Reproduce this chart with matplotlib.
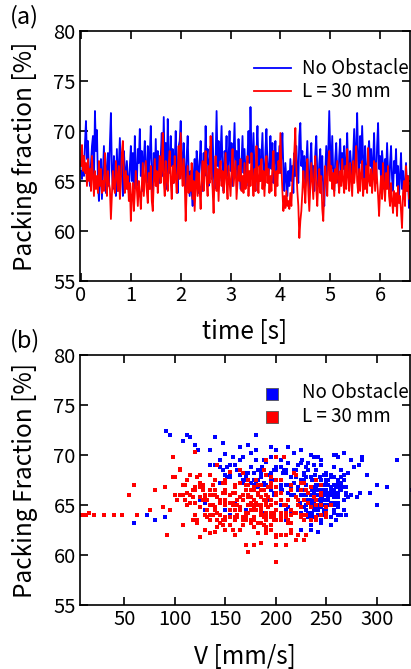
import numpy as np
import matplotlib
matplotlib.use("Agg")
import matplotlib.pyplot as plt

plt.rcParams['font.family'] = ['Noto Sans CJK JP', 'DejaVu Sans']

# packing fraction time series [%], sampled every 0.02 s from t = 0 to 6.6 s
time_step = 0.02
no_obstacle = [
    66.0, 65.2, 67.5, 65.5, 68.8, 71.0, 67.2, 69.0, 65.8, 64.5,
    66.8, 68.5, 69.5, 65.0, 72.0, 68.0, 70.1, 64.8, 63.0, 65.5,
    67.2, 63.2, 66.0, 68.5, 65.0, 63.8, 66.5, 67.8, 64.5, 68.8,
    71.8, 66.0, 64.2, 67.5, 65.0, 63.5, 68.2, 64.0, 66.8, 69.3,
    65.5, 67.0, 63.5, 68.0, 66.2, 64.8, 67.0, 65.2, 63.8, 66.5,
    68.5, 65.0, 67.8, 64.2, 69.5, 66.0, 64.5, 68.2, 66.8, 70.2,
    65.5, 68.0, 64.0, 67.2, 69.0, 66.2, 64.8, 68.5, 65.8, 67.5,
    70.5, 66.0, 63.0, 67.8, 65.2, 69.2, 64.5, 68.0, 66.5, 64.8,
    67.5, 69.8, 65.5, 71.4, 66.0, 68.8, 64.2, 71.2, 67.0, 65.8,
    69.5, 66.5, 68.2, 64.8, 67.0, 70.0, 66.2, 63.8, 68.5, 69.0,
    71.0, 67.5, 65.2, 68.8, 66.0, 64.2, 67.5, 69.5, 65.8, 63.5,
    66.0, 64.0, 62.5, 65.5, 67.2, 64.8, 68.0, 66.5, 63.8, 67.0,
    69.0, 66.2, 64.0, 67.8, 65.5, 70.5, 66.8, 68.2, 64.5, 67.0,
    68.5, 65.2, 69.8, 66.0, 64.2, 67.0, 72.0, 66.5, 69.0, 65.0,
    67.8, 70.5, 66.2, 64.0, 68.0, 66.8, 69.5, 65.5, 67.2, 70.0,
    66.0, 68.8, 64.5, 67.5, 70.8, 66.2, 68.0, 65.0, 69.2, 66.5,
    64.2, 67.0, 69.5, 65.8, 68.2, 66.0, 64.5, 67.5, 70.0, 66.8,
    72.4, 68.0, 65.5, 69.8, 66.2, 64.0, 67.8, 70.5, 66.5, 68.2,
    65.0, 67.5, 69.8, 66.0, 64.5, 68.0, 70.2, 66.8, 65.2, 67.0,
    69.5, 66.2, 68.8, 64.8, 67.2, 69.0, 65.5, 67.8, 66.0, 68.5,
    65.8, 67.5, 69.8, 66.2, 64.0, 66.8, 65.2, 63.5, 66.0, 64.5,
    67.2, 65.0, 66.5, 63.8, 67.8, 65.5, 68.5, 66.0, 64.8, 69.5,
    70.8, 66.5, 68.0, 65.2, 67.5, 64.5, 66.8, 69.0, 65.5, 63.8,
    67.0, 68.8, 65.2, 66.5, 64.0, 67.8, 69.5, 65.8, 64.5, 66.8,
    68.2, 65.0, 67.5, 64.2, 62.5, 66.0, 68.5, 65.5, 67.8, 72.0,
    68.0, 66.2, 69.5, 65.8, 64.0, 67.2, 68.8, 66.0, 64.8, 67.5,
    69.2, 65.5, 67.8, 66.2, 68.5, 64.5, 67.0, 69.8, 66.0, 65.2,
    68.0, 66.5, 64.8, 67.5, 70.2, 66.0, 68.2, 71.8, 67.0, 65.5,
    69.5, 66.8, 70.5, 67.2, 65.0, 68.5, 66.2, 64.5, 67.8, 69.0,
    66.5, 68.2, 65.2, 67.0, 69.8, 66.0, 64.8, 68.5, 70.8, 66.2,
    67.5, 65.0, 68.0, 66.5, 64.2, 67.2, 65.5, 68.8, 66.0, 63.8,
    66.8, 68.5, 65.2, 64.0, 67.0, 65.8, 68.2, 64.5, 66.5, 63.5,
    65.5, 67.8, 64.2, 66.0, 63.2, 65.0, 66.8, 64.0, 65.5, 62.3,
    63.5,
]
l30 = [
    66.5, 68.6, 66.0, 67.5, 65.8, 66.8, 64.5, 67.2, 65.0, 66.2,
    64.0, 67.5, 65.5, 63.5, 66.0, 64.2, 65.5, 63.8, 67.0, 64.5,
    66.2, 63.8, 65.0, 64.0, 67.8, 65.2, 63.5, 66.0, 64.8, 64.2,
    61.2, 63.5, 66.0, 64.5, 63.8, 67.0, 65.5, 64.0, 66.5, 63.2,
    65.0, 67.8, 69.0, 65.5, 63.8, 66.0, 64.2, 65.5, 63.0, 64.8,
    61.0, 63.5, 64.8, 62.0, 63.8, 66.0, 64.2, 62.5, 65.0, 63.8,
    62.2, 64.5, 66.8, 63.5, 65.2, 67.0, 64.0, 62.8, 65.8, 64.2,
    66.5, 63.0, 62.0, 65.0, 67.2, 64.5, 66.0, 63.8, 65.5, 67.5,
    64.8, 66.2, 69.8, 65.0, 63.5, 67.0, 65.2, 64.0, 66.8, 68.0,
    65.0, 63.2, 66.5, 64.8, 67.5, 65.5, 63.8, 66.0, 68.5, 65.2,
    69.8, 66.0, 64.5, 67.2, 65.0, 61.0, 64.2, 66.5, 63.8, 65.5,
    64.0, 66.8, 63.2, 65.0, 62.0, 64.5, 66.0, 63.5, 65.8, 64.2,
    62.2, 65.5, 67.0, 64.0, 66.2, 68.0, 65.0, 63.5, 66.5, 64.8,
    69.5, 66.0, 64.2, 61.8, 65.5, 67.5, 64.0, 66.2, 63.0, 65.8,
    67.0, 64.5, 66.0, 63.8, 65.2, 67.8, 64.8, 63.2, 66.5, 65.0,
    63.5, 66.0, 68.2, 64.5, 65.8, 67.0, 63.2, 64.8, 66.5, 65.0,
    67.2, 64.0, 65.5, 63.8, 66.8, 64.2, 65.0, 67.5, 63.5, 66.0,
    64.5, 67.8, 65.2, 63.5, 66.2, 64.0, 68.5, 65.0, 63.8, 66.5,
    65.0, 67.2, 64.2, 66.0, 63.5, 65.8, 67.5, 64.8, 66.2, 63.8,
    65.5, 64.0, 66.5, 68.0, 65.2, 63.5, 66.0, 64.5, 67.0, 65.8,
    69.8, 66.5, 64.0, 62.0, 63.5, 62.3, 64.0, 62.5, 63.0, 62.2,
    63.8, 62.5, 65.0, 66.5, 68.0, 70.3, 66.2, 64.0, 62.5, 59.3,
    61.0, 62.0, 63.8, 66.0, 64.5, 62.8, 65.5, 67.2, 64.0, 62.0,
    64.5, 66.8, 65.0, 63.2, 65.8, 67.5, 64.2, 62.5, 65.0, 66.2,
    63.8, 65.5, 62.2, 61.0, 64.0, 66.5, 65.2, 63.5, 66.8, 68.0,
    65.0, 66.5, 64.2, 65.8, 63.5, 66.2, 64.8, 67.0, 65.2, 63.8,
    66.0, 64.5, 67.2, 65.0, 63.8, 66.5, 64.2, 68.2, 65.5, 64.0,
    66.8, 65.2, 63.5, 67.0, 64.8, 66.0, 68.5, 65.0, 63.8, 66.2,
    64.0, 65.8, 67.0, 63.5, 65.2, 64.2, 66.5, 63.8, 68.3, 65.0,
    64.5, 66.2, 63.8, 65.5, 67.0, 64.0, 66.8, 65.2, 63.5, 61.5,
    64.0, 65.5, 63.2, 66.8, 64.5, 63.0, 65.8, 64.2, 66.5, 63.5,
    62.5, 64.8, 63.0, 61.8, 64.0, 62.5, 63.8, 61.5, 64.5, 62.8,
    63.5, 62.0, 60.3, 63.8, 65.0, 62.5, 66.5, 64.0, 65.5, 63.2,
    64.5,
]

# flow speed V [mm/s] paired with each packing value above
v_no_obstacle = [
    215, 238, 170, 252, 145, 120, 228, 160, 245, 200,
    260, 182, 205, 230, 95, 150, 150, 212, 235, 268,
    145, 60, 248, 220, 185, 250, 195, 265, 170, 200,
    115, 275, 225, 236, 205, 80, 178, 242, 255, 190,
    222, 210, 240, 155, 283, 262, 240, 130, 195, 247,
    232, 248, 170, 258, 285, 140, 230, 207, 222, 175,
    192, 250, 72, 262, 135, 238, 245, 198, 272, 225,
    200, 218, 255, 244, 160, 232, 210, 290, 255, 236,
    195, 168, 240, 108, 230, 258, 186, 148, 300, 252,
    226, 265, 185, 228, 248, 260, 212, 90, 240, 155,
    172, 228, 255, 205, 235, 170, 250, 188, 280, 210,
    242, 264, 225, 125, 218, 243, 268, 205, 232, 188,
    245, 252, 215, 230, 245, 135, 240, 210, 258, 160,
    265, 234, 195, 238, 232, 258, 180, 222, 238, 242,
    215, 180, 262, 248, 228, 310, 205, 236, 250, 235,
    226, 278, 240, 180, 165, 246, 248, 256, 212, 236,
    236, 241, 180, 262, 195, 270, 150, 245, 258, 215,
    91, 165, 250, 238, 198, 230, 255, 123, 244, 170,
    238, 268, 158, 225, 250, 192, 218, 182, 262, 205,
    275, 250, 175, 240, 180, 140, 228, 195, 255, 148,
    246, 168, 285, 260, 155, 268, 224, 245, 252, 130,
    188, 256, 226, 238, 152, 242, 210, 258, 235, 165,
    212, 240, 165, 232, 198, 248, 205, 222, 250, 234,
    252, 186, 245, 264, 196, 235, 145, 258, 240, 270,
    228, 260, 182, 215, 235, 238, 162, 246, 220, 112,
    190, 256, 245, 238, 265, 175, 230, 252, 250, 262,
    225, 242, 155, 270, 200, 238, 178, 262, 230, 256,
    255, 206, 228, 252, 268, 240, 172, 140, 190, 244,
    320, 236, 225, 168, 250, 208, 262, 268, 185, 282,
    250, 272, 258, 230, 242, 245, 236, 218, 195, 293,
    178, 252, 239, 258, 248, 265, 232, 152, 240, 255,
    268, 185, 256, 262, 212, 280, 250, 242, 335, 260,
    240, 258, 250, 198, 245, 300, 264, 270, 252, 242,
    245,
]
v_l30 = [
    175, 105, 140, 200, 165, 90, 185, 125, 210, 158,
    8, 180, 195, 150, 55, 170, 132, 188, 215, 75,
    160, 205, 178, 12, 100, 145, 168, 190, 88, 220,
    185, 135, 172, 200, 160, 60, 150, 30, 118, 182,
    162, 195, 142, 178, 210, 108, 172, 228, 148, 192,
    210, 175, 140, 92, 195, 168, 15, 158, 185, 225,
    190, 165, 125, 205, 155, 172, 48, 178, 142, 198,
    80, 168, 222, 190, 150, 175, 200, 132, 162, 112,
    185, 158, 208, 172, 142, 185, 120, 20, 195, 135,
    150, 215, 178, 165, 240, 188, 155, 105, 165, 200,
    98, 182, 160, 148, 175, 178, 195, 225, 170, 145,
    5, 200, 122, 158, 200, 180, 138, 160, 192, 170,
    135, 110, 160, 225, 205, 125, 245, 240, 128, 178,
    190, 135, 250, 125, 102, 205, 62, 232, 195, 118,
    138, 215, 115, 168, 150, 98, 235, 185, 120, 255,
    198, 130, 218, 155, 220, 108, 145, 125, 230, 138,
    165, 40, 240, 150, 128, 195, 112, 172, 212, 245,
    160, 122, 190, 228, 150, 135, 105, 208, 195, 118,
    185, 228, 142, 200, 118, 175, 140, 250, 182, 210,
    128, 188, 140, 190, 232, 178, 100, 160, 245, 185,
    200, 175, 120, 205, 160, 140, 225, 150, 108, 215,
    178, 130, 222, 188, 115, 120, 200, 138, 190, 200,
    170, 210, 250, 155, 132, 142, 212, 195, 162, 230,
    95, 160, 195, 185, 125, 150, 205, 165, 240, 112,
    190, 145, 182, 200, 228, 185, 158, 122, 178, 220,
    172, 215, 185, 130, 205, 245, 165, 110, 180, 198,
    182, 140, 225, 195, 160, 135, 218, 168, 205, 185,
    235, 190, 148, 182, 225, 155, 188, 138, 162, 205,
    215, 172, 128, 190, 115, 210, 175, 240, 155, 182,
    178, 148, 198, 222, 170, 130, 192, 175, 235, 220,
    145, 168, 212, 120, 185, 155, 238, 190, 170, 200,
    165, 125, 188, 200, 230, 215, 162, 228, 140, 190,
    170, 160, 172, 210, 135, 195, 150, 245, 190, 175,
    180,
]

labels = ["No Obstacle", "L = 30 mm"]
colors = ["#0000ff", "#ff0000"]

t = np.arange(len(no_obstacle)) * time_step

fig = plt.figure(figsize=(4.11, 6.69), dpi=100)
ax1 = fig.add_axes([80 / 411, 1 - 281 / 669, 330 / 411, 250 / 669])
ax2 = fig.add_axes([80 / 411, 1 - 605 / 669, 330 / 411, 250 / 669])

# (a) time series
ax1.plot(t, no_obstacle, color=colors[0], lw=1.3, label=labels[0])
ax1.plot(t, l30, color=colors[1], lw=1.3, label=labels[1])
ax1.set_xlim(-0.02, 6.6)
ax1.set_xticks(range(7))
ax1.set_xlabel("time [s]", fontsize=17.5, labelpad=9)
ax1.set_ylabel("Packing fraction [%]", fontsize=17.5, labelpad=11)
ax1.legend(loc="upper right", bbox_to_anchor=(1.02, 0.92), frameon=False,
           fontsize=13.5, handlelength=2.0, handletextpad=0.6,
           labelspacing=0.1, borderaxespad=0)

# (b) scatter V vs packing
ax2.scatter(v_no_obstacle, no_obstacle, s=7, marker="s", color=colors[0],
            linewidths=0, label=labels[0])
ax2.scatter(v_l30, l30, s=7, marker="s", color=colors[1],
            linewidths=0, label=labels[1])
ax2.set_xlim(6, 333)
ax2.set_xticks([50, 100, 150, 200, 250, 300])
ax2.set_xlabel("V [mm/s]", fontsize=17.5, labelpad=10)
ax2.set_ylabel("Packing Fraction [%]", fontsize=17.5, labelpad=11)
leg = ax2.legend(loc="upper right", bbox_to_anchor=(1.02, 0.92), frameon=False,
                 fontsize=13.5, markerscale=3.2, handlelength=1.0,
                 handletextpad=1.1, labelspacing=0.15, borderaxespad=0)
for h in leg.legend_handles:
    h.set_edgecolor("#555555")
    h.set_linewidth(0.6)

for ax in (ax1, ax2):
    ax.set_ylim(55, 80)
    ax.set_yticks([55, 60, 65, 70, 75, 80])
    ax.tick_params(direction="in", top=True, right=True, length=6, width=1.2,
                   labelsize=14.5, pad=3)
    for sp in ax.spines.values():
        sp.set_linewidth(1.2)

fig.text(10 / 411, 1 - 17 / 669, "(a)", fontsize=17, va="center")
fig.text(10 / 411, 1 - 341 / 669, "(b)", fontsize=17, va="center")

fig.savefig("out.png", dpi=100)
